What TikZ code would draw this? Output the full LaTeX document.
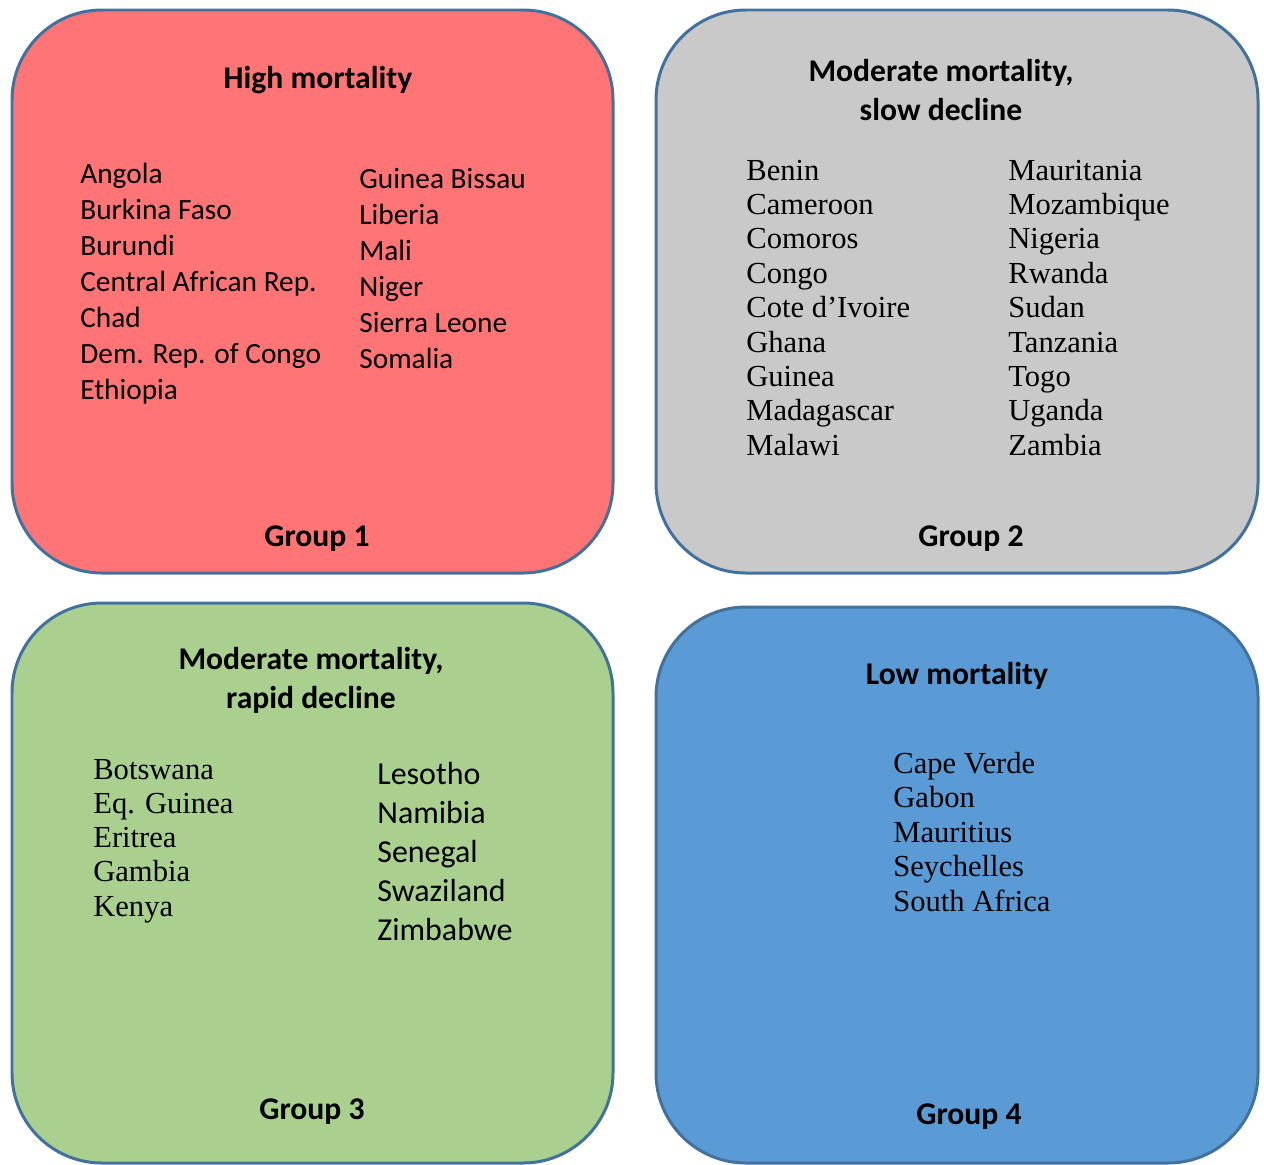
\documentclass[tikz,border=0pt]{standalone}
\usepackage{fontspec}
\setmainfont{Carlito}
\newfontfamily\serifcountry{Liberation Serif}
\definecolor{redfill}{HTML}{FF7575}
\definecolor{greyfill}{HTML}{C9C9C9}
\definecolor{greenfill}{HTML}{A9D08E}
\definecolor{bluefill}{HTML}{5B9BD5}
\definecolor{edgeblue}{HTML}{41719C}
\tikzset{
  panel/.style={draw=edgeblue, line width=1.7pt, rounded corners=1.8cm},
  titletext/.style={anchor=base, inner sep=0pt, font=\fontsize{18}{22}\selectfont\bfseries},
  sanstext/.style={anchor=base west, inner sep=0pt, font=\fontsize{16.7}{20}\selectfont},
  bigsanstext/.style={anchor=base west, inner sep=0pt, font=\fontsize{18.2}{22}\selectfont},
  seriftext/.style={anchor=base west, inner sep=0pt, font=\fontsize{17.4}{20}\selectfont\serifcountry},
}
\begin{document}
\begin{tikzpicture}[x=0.02cm, y=-0.02cm]
\useasboundingbox (0,0) rectangle (1264,1164);
% panels
\draw[panel, fill=redfill]   (12,10)  rectangle (613,573);
\draw[panel, fill=greyfill]  (656,10) rectangle (1258,573);
\draw[panel, fill=greenfill] (12,603) rectangle (613,1163);
\draw[panel, fill=bluefill]  (656,607) rectangle (1258,1163);

% Group 1
\node[titletext] (t1) at (318,88) {High mortality};
\node[titletext] (g1) at (317,546) {Group 1};
\foreach \c [count=\i from 0] in {Angola,Burkina Faso,Burundi,Central African Rep.,Chad,Dem. Rep. of Congo,Ethiopia}
  \node[sanstext] (a\i) at (80,{183+36*\i}) {\c};
\foreach \c [count=\i from 0] in {Guinea Bissau,Liberia,Mali,Niger,Sierra Leone,Somalia}
  \node[sanstext] (b\i) at (359,{188+36*\i}) {\c};

% Group 2
\node[titletext] (t2a) at (941,81) {Moderate mortality,};
\node[titletext] (t2b) at (941,120) {slow decline};
\node[titletext] (g2) at (971,546) {Group 2};
\foreach \c [count=\i from 0] in {Benin,Cameroon,Comoros,Congo,Cote d’Ivoire,Ghana,Guinea,Madagascar,Malawi}
  \node[seriftext] (c\i) at (746,{180+34.4*\i}) {\c};
\foreach \c [count=\i from 0] in {Mauritania,Mozambique,Nigeria,Rwanda,Sudan,Tanzania,Togo,Uganda,Zambia}
  \node[seriftext] (d\i) at (1008,{180+34.4*\i}) {\c};

% Group 3
\node[titletext] (t3a) at (311,669) {Moderate mortality,};
\node[titletext] (t3b) at (311,708) {rapid decline};
\node[titletext] (g3) at (312,1119) {Group 3};
\foreach \c [count=\i from 0] in {Botswana,Eq. Guinea,Eritrea,Gambia,Kenya}
  \node[seriftext] (e\i) at (93,{779+34.3*\i}) {\c};
\foreach \c [count=\i from 0] in {Lesotho,Namibia,Senegal,Swaziland,Zimbabwe}
  \node[bigsanstext] (f\i) at (377,{784+39*\i}) {\c};

% Group 4
\node[titletext] (t4) at (957,684) {Low mortality};
\node[titletext] (g4) at (969,1124) {Group 4};
\foreach \c [count=\i from 0] in {Cape Verde,Gabon,Mauritius,Seychelles,South Africa}
  \node[seriftext] (h\i) at (893,{773+34.5*\i}) {\c};
\end{tikzpicture}
\end{document}
